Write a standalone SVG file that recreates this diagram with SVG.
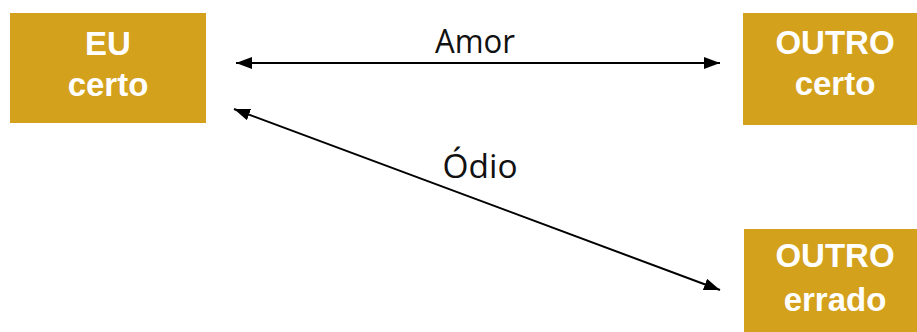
<svg xmlns="http://www.w3.org/2000/svg" width="917" height="332" viewBox="0 0 917 332">
<style>
.box{fill:#D4A11D}
.bt{font-family:"Liberation Sans",Arial,sans-serif;font-weight:bold;font-size:33px;fill:#fff;text-anchor:middle}
.lbl{font-family:"Open Sans","Liberation Sans",sans-serif;font-size:32px;fill:#111;text-anchor:middle}
.con{stroke:#000;stroke-width:2;fill:none}
</style>
<defs>
<marker id="a" viewBox="0 0 16 12" refX="16" refY="6" markerWidth="16" markerHeight="12" markerUnits="userSpaceOnUse" orient="auto-start-reverse">
<path d="M0,0 L16,6 L0,12 z" fill="#000"/>
</marker>
</defs>
<g id="eu-certo">
<rect class="box" x="10" y="13" width="196" height="110"/>
<text class="bt" x="108" y="55">EU</text>
<text class="bt" x="108" y="96">certo</text>
</g>
<g id="outro-certo">
<rect class="box" x="743" y="13" width="174" height="112"/>
<text class="bt" x="835" y="54">OUTRO</text>
<text class="bt" x="835" y="95">certo</text>
</g>
<g id="outro-errado">
<rect class="box" x="744" y="229" width="173" height="103"/>
<text class="bt" x="835" y="267">OUTRO</text>
<text class="bt" x="835" y="311">errado</text>
</g>
<g id="connectors">
<line class="con" x1="236" y1="63" x2="720" y2="63" marker-start="url(#a)" marker-end="url(#a)"/>
<text class="lbl" x="475" y="53" textLength="80" lengthAdjust="spacingAndGlyphs">Amor</text>
<line class="con" x1="234" y1="109" x2="720" y2="290" marker-start="url(#a)" marker-end="url(#a)"/>
<text class="lbl" x="480" y="178" textLength="75" lengthAdjust="spacingAndGlyphs">Ódio</text>
</g>
</svg>
